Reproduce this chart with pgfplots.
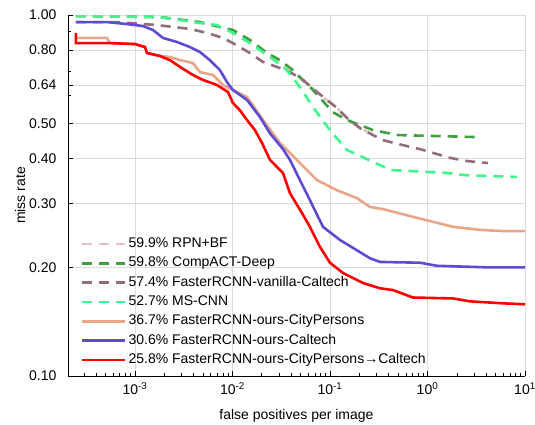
\documentclass[border=0pt]{standalone}
\usepackage{fontspec}
\setmainfont{Liberation Sans}
\usepackage{pgfplots}
\pgfplotsset{compat=1.18}

\definecolor{rpnbf}{RGB}{228,196,202}
\definecolor{compact}{RGB}{64,160,64}
\definecolor{vanilla}{RGB}{145,110,120}
\definecolor{mscnn}{RGB}{64,245,140}
\definecolor{ourscp}{RGB}{232,165,135}
\definecolor{oursc}{RGB}{92,76,212}
\definecolor{ourscpc}{RGB}{255,0,0}

\begin{document}
\begin{tikzpicture}[font=\fontsize{14}{16}\selectfont]
\begin{axis}[
  scale only axis, width=457pt, height=361pt,
  xmode=log, ymode=log,
  xmin=2.06e-4, xmax=10, ymin=0.1, ymax=1,
  axis x line*=bottom, axis y line*=left,
  axis line style={-, black, line width=0.8pt},
  tick align=inside,
  major tick length=5pt, minor tick length=3pt,
  every tick/.style={black, line width=0.6pt},
  grid=major,
  major grid style={black!14, line width=0.8pt},
  xtick={1e-3,1e-2,1e-1,1,10},
  xticklabels={10\textsuperscript{-3},10\textsuperscript{-2},10\textsuperscript{-1},10\textsuperscript{0},10\textsuperscript{1}},
  minor xtick={3e-4,4e-4,5e-4,6e-4,7e-4,8e-4,9e-4,
    2e-3,3e-3,4e-3,5e-3,6e-3,7e-3,8e-3,9e-3,
    2e-2,3e-2,4e-2,5e-2,6e-2,7e-2,8e-2,9e-2,
    0.2,0.3,0.4,0.5,0.6,0.7,0.8,0.9,
    2,3,4,5,6,7,8,9},
  ytick={0.1,0.2,0.3,0.4,0.5,0.64,0.8,1},
  yticklabels={0.10,0.20,0.30,0.40,0.50,0.64,0.80,1.00},
  minor ytick={0.6,0.7,0.9},
  yticklabel style={xshift=-8pt},
  xticklabel style={yshift=-3pt},
  xlabel={false positives per image},
  ylabel={miss rate},
  xlabel style={at={(axis description cs:0.5,-0.11)}, anchor=center},
  ylabel style={at={(axis description cs:-0.105,0.5)}, anchor=center},
  legend cell align=left,
  legend image code/.code={\draw[#1] (0pt,0pt) -- (43pt,0pt);},
  legend style={draw=none, fill=none, at={(0.028,0.384)}, anchor=north west,
    inner sep=0pt, row sep=6.3pt,
    nodes={text height=10pt, text depth=3pt, inner sep=0pt, inner xsep=2pt}},
]
\addplot[rpnbf, line width=2.6pt, dash pattern=on 10pt off 7pt] coordinates {
  (2.48e-4,0.990) (1.8e-3,0.987) (4.64e-3,0.955) (1.01e-2,0.905) (1.51e-2,0.850)
  (2.26e-2,0.785) (3.89e-2,0.697) (5.28e-2,0.660) (9.31e-2,0.580) (0.118,0.553)
  (0.149,0.518) (0.203,0.487) (0.276,0.466)
};
\addlegendentry{59.9\% RPN+BF}
\addplot[compact, line width=2.6pt, dash pattern=on 10pt off 7pt] coordinates {
  (2.48e-4,0.995) (1.8e-3,0.987) (4.64e-3,0.956) (1.01e-2,0.909) (1.51e-2,0.853)
  (2.26e-2,0.785) (3.07e-2,0.750) (4.17e-2,0.704) (6.69e-2,0.620) (0.107,0.538)
  (0.149,0.512) (0.276,0.480) (0.498,0.465) (3.30,0.459)
};
\addlegendentry{59.8\% CompACT-Deep}
\addplot[vanilla, line width=2.6pt, dash pattern=on 10pt off 7pt] coordinates {
  (2.48e-4,0.956) (6.53e-4,0.956) (1.68e-3,0.938) (3.67e-3,0.915) (5.47e-3,0.892)
  (8.0e-3,0.864) (1.01e-2,0.836) (1.51e-2,0.785) (2.06e-2,0.741) (2.86e-2,0.718)
  (3.89e-2,0.695) (5.28e-2,0.661) (7.36e-2,0.612) (9.31e-2,0.582) (0.118,0.553)
  (0.149,0.519) (0.203,0.486) (0.276,0.465) (0.350,0.450) (0.561,0.436)
  (0.838,0.425) (1.14,0.415) (1.70,0.402) (2.54,0.394) (4.17,0.389)
};
\addlegendentry{57.4\% FasterRCNN-vanilla-Caltech}
\addplot[mscnn, line width=2.6pt, dash pattern=on 10pt off 7pt] coordinates {
  (2.48e-4,0.994) (1.8e-3,0.987) (4.64e-3,0.950) (6.94e-3,0.938) (1.01e-2,0.892)
  (1.51e-2,0.836) (2.43e-2,0.765) (3.62e-2,0.704) (4.92e-2,0.632) (6.69e-2,0.556)
  (0.100,0.480) (0.149,0.423) (0.194,0.410) (0.290,0.389) (0.432,0.372)
  (1.11,0.367) (1.62,0.365) (2.43,0.360) (8.28,0.356)
};
\addlegendentry{52.7\% MS-CNN}
\addplot[ourscp, line width=2.6pt] coordinates {
  (2.48e-4,0.864) (5.16e-4,0.864) (5.55e-4,0.836) (1.0e-3,0.831) (1.27e-3,0.815)
  (1.33e-3,0.785) (1.80e-3,0.770) (2.29e-3,0.765) (2.90e-3,0.750) (3.94e-3,0.736)
  (4.64e-3,0.695) (6.31e-3,0.682) (8.0e-3,0.640) (1.01e-2,0.620) (1.41e-2,0.593)
  (2.06e-2,0.512) (3.07e-2,0.442) (3.89e-2,0.415) (4.92e-2,0.389) (7.36e-2,0.349)
  (0.118,0.327) (0.189,0.311) (0.257,0.294) (0.350,0.290) (0.710,0.276)
  (0.99,0.270) (1.83,0.259) (3.45,0.254) (5.95,0.252) (10,0.252)
};
\addlegendentry{36.7\% FasterRCNN-ours-CityPersons}
\addplot[oursc, line width=2.6pt] coordinates {
  (2.48e-4,0.956) (5.16e-4,0.956) (8.28e-4,0.944) (1.21e-3,0.932) (1.53e-3,0.909)
  (1.94e-3,0.864) (2.70e-3,0.842) (3.67e-3,0.815) (4.64e-3,0.790) (5.87e-3,0.750)
  (7.45e-3,0.704) (8.79e-3,0.652) (1.01e-2,0.620) (1.41e-2,0.582) (1.91e-2,0.522)
  (2.43e-2,0.470) (3.30e-2,0.425) (3.89e-2,0.397) (4.92e-2,0.349) (6.23e-2,0.307)
  (8.48e-2,0.259) (0.127,0.238) (0.189,0.223) (0.257,0.212) (0.326,0.207)
  (0.838,0.206) (1.25,0.202) (4.07,0.200) (10,0.200)
};
\addlegendentry{30.6\% FasterRCNN-ours-Caltech}
\addplot[ourscpc, line width=2.6pt] coordinates {
  (2.48e-4,0.892) (2.48e-4,0.836) (5.55e-4,0.836) (1.0e-3,0.831) (1.27e-3,0.815)
  (1.33e-3,0.785) (1.80e-3,0.770) (2.29e-3,0.750) (2.90e-3,0.718) (3.94e-3,0.682)
  (4.98e-3,0.661) (6.94e-3,0.640) (9.0e-3,0.612) (1.01e-2,0.571) (1.19e-2,0.545)
  (1.41e-2,0.512) (1.70e-2,0.480) (2.01e-2,0.442) (2.43e-2,0.397) (3.30e-2,0.365)
  (3.89e-2,0.321) (5.16e-2,0.283) (6.23e-2,0.259) (7.89e-2,0.228) (0.100,0.206)
  (0.136,0.193) (0.218,0.181) (0.326,0.175) (0.443,0.173) (0.710,0.165)
  (1.83,0.164) (2.73,0.161) (5.95,0.159) (10,0.158)
};
\addlegendentry{25.8\% FasterRCNN-ours-CityPersons→Caltech}
\end{axis}
\pgfresetboundingbox
\path (-68pt,-48pt) rectangle (467pt,376pt);
\end{tikzpicture}
\end{document}
